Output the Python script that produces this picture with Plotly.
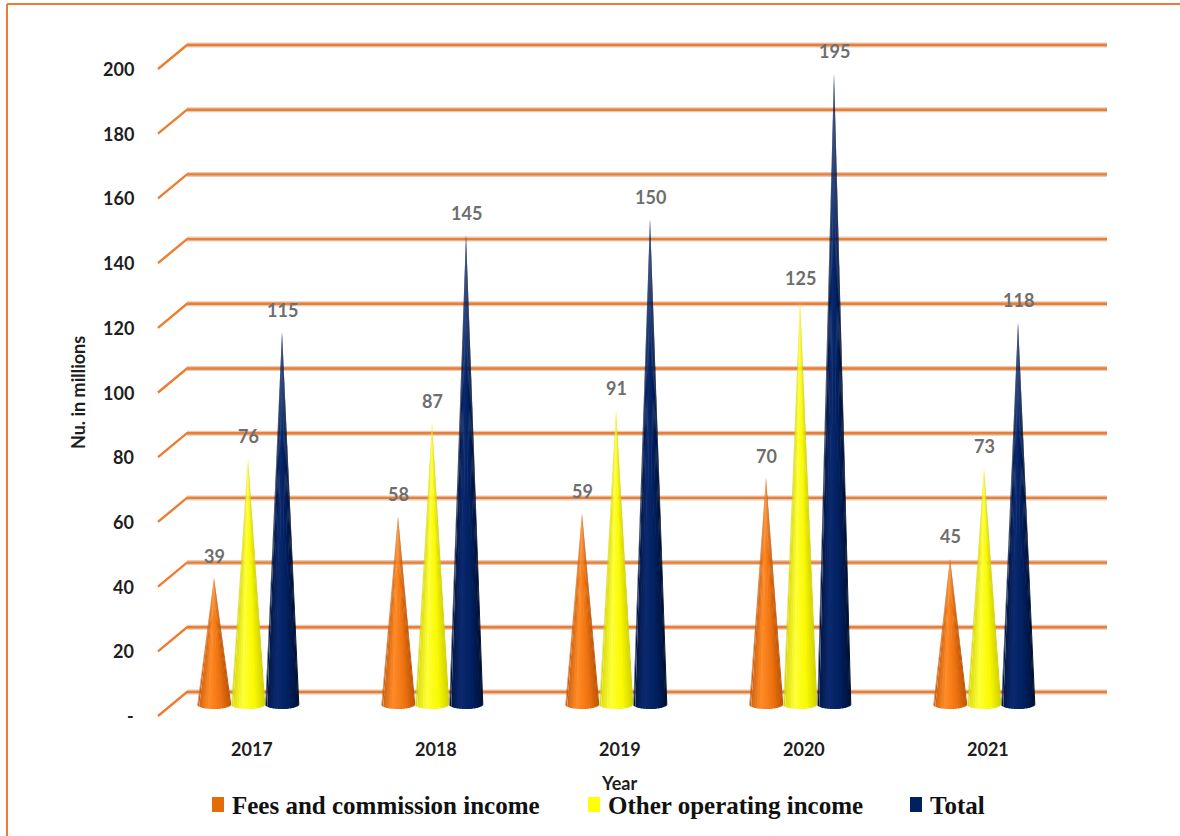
import numpy as np
import plotly.graph_objects as go

# ---------------- data ----------------
years = ["2017", "2018", "2019", "2020", "2021"]
series_names = ["Fees and commission income", "Other operating income", "Total"]
fees = [39, 58, 59, 70, 45]
other_income = [76, 87, 91, 125, 73]
total = [115, 145, 150, 195, 118]
tick_values = [0, 20, 40, 60, 80, 100, 120, 140, 160, 180, 200]
tick_labels = ["-", "20", "40", "60", "80", "100", "120", "140", "160", "180", "200"]
y_title = "Nu. in millions"
x_title = "Year"

series_values = [fees, other_income, total]

# ---------------- geometry / style ----------------
W, H = 1180, 836
L, R, T, B = 150, 60, 30, 101
X_PX0, X_PX_PER = 248.0, 184.0     # pixel of first category, pixels per category
Y_PX0, Y_PX_PER = 704.0, 3.235     # pixel of value 0 (mid depth plane), pixels per unit
xrange = [(L - X_PX0) / X_PX_PER, (W - R - X_PX0) / X_PX_PER]
yrange = [(Y_PX0 - (H - B)) / Y_PX_PER, (Y_PX0 - T) / Y_PX_PER]

def dx(px):
    return px / X_PX_PER

def dy(px):
    return px / Y_PX_PER

def px2paper(px, py):
    return (px - L) / (W - L - R), (H - B - py) / (H - T - B)

DEPTH_Y = dy(12)
GRID_BACK_L = (187 - X_PX0) / X_PX_PER
GRID_BACK_R = (1107 - X_PX0) / X_PX_PER
GRID_FRONT_L = (158 - X_PX0) / X_PX_PER

cone_offsets = [dx(-34), 0.0, dx(34)]
cone_half_w = dx(17.5)
cone_base_h = dy(5)

palettes = [
    [(0.0, (196, 88, 10)), (0.35, (255, 140, 40)), (0.7, (240, 116, 16)), (1.0, (190, 84, 6))],
    [(0.0, (210, 210, 0)), (0.35, (255, 255, 60)), (0.7, (250, 250, 0)), (1.0, (208, 208, 0))],
    [(0.0, (0, 18, 58)), (0.35, (12, 42, 112)), (0.7, (0, 32, 96)), (1.0, (0, 16, 50))],
]
legend_colors = ["#E36C09", "#FFFF00", "#002060"]
grid_color = "#ED7D31"

def pal_color(pal, u):
    for (u0, c0), (u1, c1) in zip(pal[:-1], pal[1:]):
        if u0 <= u <= u1:
            f = (u - u0) / (u1 - u0)
            c = [round(a + (b - a) * f) for a, b in zip(c0, c1)]
            return "rgb(%d,%d,%d)" % tuple(c)
    return "rgb(%d,%d,%d)" % pal[-1][1]

fig = go.Figure()

# ---------------- 3D-style gridlines ----------------
for v in tick_values:
    xs = [GRID_FRONT_L, GRID_BACK_L, GRID_BACK_R]
    ys = [v - DEPTH_Y, v + DEPTH_Y, v + DEPTH_Y]
    fig.add_trace(go.Scatter(x=xs[1:], y=ys[1:], mode="lines",
                             line=dict(color="rgba(200,160,130,0.55)", width=5),
                             hoverinfo="skip", showlegend=False))
    fig.add_trace(go.Scatter(x=xs, y=ys, mode="lines",
                             line=dict(color=grid_color, width=2.4),
                             hoverinfo="skip", showlegend=False))

# ---------------- cones ----------------
N_GORES = 18
angles = np.linspace(0, np.pi, N_GORES + 1)
overlap = 0.03
for s, (vals, pal) in enumerate(zip(series_values, palettes)):
    for g in range(N_GORES):
        a0, a1 = angles[g], angles[g + 1]
        u = (1 - np.cos((a0 + a1) / 2)) / 2
        col = pal_color(pal, u)
        b0 = max(0.0, a0 - overlap)
        b1 = min(np.pi, a1 + overlap)
        xs, ys = [], []
        for i, v in enumerate(vals):
            xc = i + cone_offsets[s]
            arc = np.linspace(b0, b1, 4)
            xs += [xc] + list(xc - cone_half_w * np.cos(arc)) + [xc, None]
            ys += [v] + list(-cone_base_h * np.sin(arc)) + [v, None]
        fig.add_trace(go.Scatter(x=xs, y=ys, mode="lines", fill="toself",
                                 fillcolor=col, line=dict(color=col, width=0),
                                 hoverinfo="skip", showlegend=False))

# ---------------- data labels ----------------
annotations = []
for s, vals in enumerate(series_values):
    for i, v in enumerate(vals):
        annotations.append(dict(x=i + cone_offsets[s], y=v, xref="x", yref="y",
                                text="<b>%d</b>" % v, showarrow=False,
                                xanchor="center", yanchor="bottom", yshift=9,
                                font=dict(family="Lato", size=18, color="#6E6E6E")))

# y tick labels (at front edge of the 3D gridlines)
for v, lab in zip(tick_values, tick_labels):
    annotations.append(dict(x=GRID_FRONT_L, y=v - DEPTH_Y, xref="x", yref="y",
                            text="<b>%s</b>" % lab, showarrow=False,
                            xanchor="right", yanchor="middle", xshift=-22,
                            font=dict(family="Lato", size=18, color="#1E1E1E")))

# category labels
for i, yr in enumerate(years):
    annotations.append(dict(x=i, y=0, xref="x", yref="paper",
                            text="<b>%s</b>" % yr, showarrow=False,
                            xanchor="center", xshift=4, yanchor="top", yshift=-1,
                            font=dict(family="Lato", size=18, color="#1E1E1E")))

# axis titles
xp, yp = px2paper(619, 783)
annotations.append(dict(x=xp, y=yp, xref="paper", yref="paper", text="<b>%s</b>" % x_title,
                        showarrow=False, xanchor="center", yanchor="middle",
                        font=dict(family="Lato", size=18, color="#1E1E1E")))
xp, yp = px2paper(78, 393)
annotations.append(dict(x=xp, y=yp, xref="paper", yref="paper", text="<b>%s</b>" % y_title,
                        showarrow=False, textangle=-90, xanchor="center", yanchor="middle",
                        font=dict(family="Lato", size=18, color="#1E1E1E")))

# ---------------- legend (manual) ----------------
shapes = []
legend_sq_px = [212, 588, 910]
for name, col, sx in zip(series_names, legend_colors, legend_sq_px):
    x0, y0 = px2paper(sx, 812)
    x1, y1 = px2paper(sx + 12, 797)
    shapes.append(dict(type="rect", xref="paper", yref="paper", x0=x0, y0=y0, x1=x1, y1=y1,
                       fillcolor=col, line=dict(width=0)))
    tx, ty = px2paper(sx + 18, 805)
    annotations.append(dict(x=tx, y=ty, xref="paper", yref="paper", text="<b>%s</b>" % name,
                            showarrow=False, xanchor="left", yanchor="middle",
                            font=dict(family="Liberation Serif", size=25, color="#111111")))

# ---------------- outer border ----------------
bx0, by0 = px2paper(7, 4)
bx1, _ = px2paper(W + 5, 4)
_, by1 = px2paper(7, H + 5)
shapes.append(dict(type="line", xref="paper", yref="paper", x0=bx0, y0=by0, x1=bx1, y1=by0,
                   line=dict(color="#ED7D31", width=2)))
shapes.append(dict(type="line", xref="paper", yref="paper", x0=bx0, y0=by0, x1=bx0, y1=by1,
                   line=dict(color="#ED7D31", width=2)))

fig.update_layout(
    width=W, height=H,
    margin=dict(l=L, r=R, t=T, b=B),
    paper_bgcolor="white", plot_bgcolor="white",
    xaxis=dict(range=xrange, visible=False, fixedrange=True),
    yaxis=dict(range=yrange, visible=False, fixedrange=True),
    showlegend=False,
    annotations=annotations,
    shapes=shapes,
)

fig.write_html("out.html")
